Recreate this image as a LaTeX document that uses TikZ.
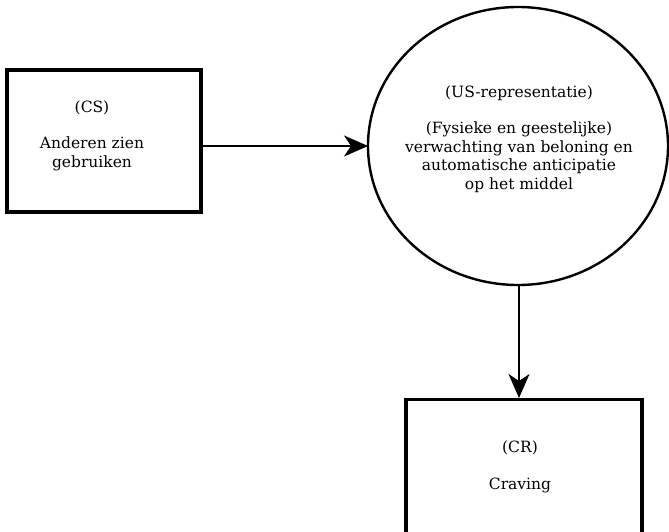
\documentclass[tikz,border=0pt]{standalone}
\usepackage{fontspec}
\setmainfont{DejaVu Serif}
\usetikzlibrary{arrows.meta}
\begin{document}
\begin{tikzpicture}[x=1pt,y=-1pt,
  boxline/.style={draw=black,line width=3.2pt},
  txt/.style={align=center,font=\fontsize{15.5}{18.5}\selectfont,inner sep=0pt},
  conn/.style={draw=black,line width=2.4pt,-{Stealth[length=24pt,width=21pt,inset=7pt]}}]
  \useasboundingbox (0,0) rectangle (669,532);
  \begin{scope}
    \clip (0,0) rectangle (669,532);
    % stimulus box, expectation ellipse, response box
    \node[boxline,minimum width=194pt,minimum height=142pt,inner sep=0pt] (cs) at (104,141) {};
    \draw[line width=2.4pt] (518,146) ellipse [x radius=150pt, y radius=139pt];
    \coordinate (us) at (518,146);
    \coordinate (usW) at (368,146);
    \coordinate (usS) at (519,285);
    \node[boxline,minimum width=236pt,minimum height=180pt,inner sep=0pt,anchor=north] (cr) at (524,398) {};
  \end{scope}
  \node[txt] (cstext) at (92,135.5) {(CS)\\[18pt]Anderen zien\\gebruiken};
  \node[txt] (ustext) at (519,139) {(US-representatie)\\[18pt](Fysieke en geestelijke)\\verwachting van beloning en\\automatische anticipatie\\op het middel};
  \node[txt] (crtext) at (520,467) {(CR)\\[19pt]Craving};
  \coordinate (crN) at (519,398);
  \draw[conn] (cs.east |- usW) -- (usW);
  \draw[conn] (usS) -- (crN);
\end{tikzpicture}
\end{document}
